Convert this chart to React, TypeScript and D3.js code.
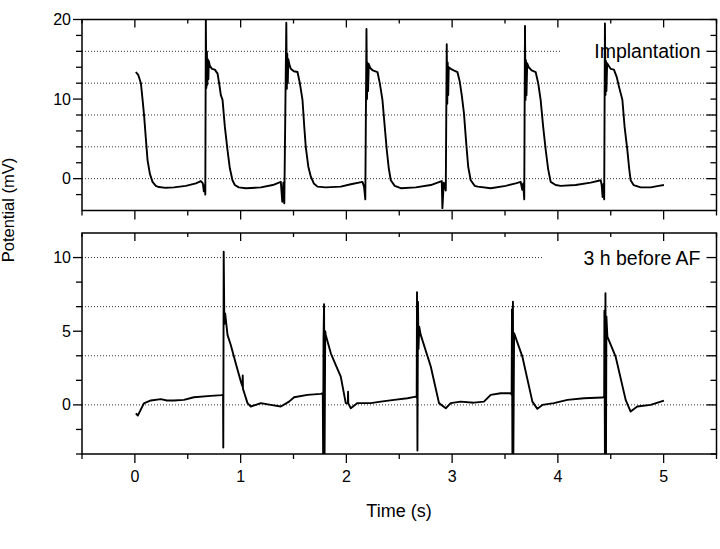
import React from "react";
import * as d3 from "d3";

// [time (s), potential (mV)]
const implantationTrace: [number, number][] = [
  [0.009, 13.4], [0.033, 13.0], [0.057, 12.0], [0.076, 9.5], [0.088, 7.8], [0.104, 5.0],
  [0.12, 2.3], [0.142, 0.6], [0.167, -0.4], [0.198, -0.9], [0.227, -1.05], [0.293, -1.15],
  [0.369, -1.1], [0.482, -0.9], [0.577, -0.6], [0.624, -0.3], [0.643, -0.6], [0.652, -1.6],
  [0.662, -0.8], [0.666, -2.0], [0.671, 20.0], [0.676, 11.4], [0.681, 16.0], [0.685, 11.8],
  [0.69, 15.0], [0.695, 12.5], [0.699, 14.8], [0.709, 14.2], [0.728, 13.8], [0.756, 13.7],
  [0.782, 13.2], [0.799, 11.8], [0.813, 10.5], [0.829, 9.9], [0.851, 6.5], [0.876, 3.6],
  [0.898, 1.3], [0.923, -0.2], [0.945, -0.8], [0.983, -1.1], [1.049, -1.2], [1.191, -1.1],
  [1.304, -0.8], [1.38, -0.4], [1.394, -2.9], [1.404, -0.5], [1.413, -3.1], [1.432, 19.6],
  [1.437, 11.3], [1.441, 15.7], [1.446, 12.0], [1.451, 15.0], [1.46, 14.4], [1.474, 13.8],
  [1.503, 13.5], [1.538, 13.4], [1.56, 12.0], [1.585, 9.9], [1.602, 6.5], [1.616, 4.0],
  [1.64, 1.5], [1.664, 0.25], [1.692, -0.6], [1.727, -1.0], [1.805, -1.1], [1.947, -1.0],
  [2.042, -0.7], [2.152, -0.4], [2.167, -1.0], [2.179, -2.6], [2.19, 18.8], [2.195, 10.0],
  [2.199, 14.6], [2.205, 11.0], [2.212, 14.4], [2.226, 13.9], [2.25, 13.6], [2.294, 13.4],
  [2.316, 12.0], [2.341, 9.9], [2.363, 6.5], [2.382, 3.6], [2.401, 1.3], [2.42, -0.2],
  [2.457, -0.9], [2.514, -1.2], [2.656, -1.1], [2.798, -0.8], [2.902, -0.3], [2.908, -3.7],
  [2.921, -0.5], [2.94, -1.5], [2.949, 16.9], [2.954, 9.4], [2.958, 14.6], [2.963, 10.5],
  [2.968, 14.0], [2.987, 13.8], [3.015, 13.6], [3.05, 13.4], [3.072, 12.2], [3.091, 10.5],
  [3.112, 8.2], [3.133, 4.5], [3.152, 1.5], [3.176, -0.2], [3.214, -0.9], [3.242, -1.0],
  [3.365, -1.2], [3.507, -0.9], [3.601, -0.6], [3.648, -0.4], [3.663, -1.4], [3.672, -0.6],
  [3.682, -2.6], [3.689, 19.2], [3.694, 9.9], [3.698, 14.9], [3.703, 10.5], [3.71, 14.5],
  [3.724, 14.0], [3.752, 13.6], [3.79, 13.4], [3.814, 12.0], [3.837, 9.9], [3.861, 6.5],
  [3.885, 3.6], [3.908, 1.2], [3.932, -0.4], [3.979, -0.8], [4.026, -0.9], [4.168, -0.8],
  [4.31, -0.5], [4.405, -0.2], [4.414, -0.8], [4.423, -2.3], [4.433, -0.6], [4.438, -2.6],
  [4.445, 19.5], [4.45, 10.5], [4.455, 14.8], [4.459, 11.0], [4.466, 14.5], [4.48, 14.2],
  [4.499, 13.8], [4.53, 13.7], [4.556, 12.8], [4.579, 11.5], [4.61, 9.9], [4.631, 6.5],
  [4.657, 3.6], [4.674, 1.3], [4.688, -0.2], [4.716, -0.8], [4.783, -1.1], [4.877, -1.1],
  [4.953, -0.9], [5.003, -0.8],
];

const beforeAFTrace: [number, number][] = [
  [0.009, -0.57], [0.028, -0.72], [0.057, -0.3], [0.085, 0.1], [0.151, 0.3], [0.246, 0.39],
  [0.302, 0.3], [0.369, 0.3], [0.463, 0.34], [0.558, 0.52], [0.718, 0.61], [0.822, 0.66],
  [0.834, 0.7], [0.836, -2.9], [0.84, 10.4], [0.846, 5.5], [0.854, 6.2], [0.876, 4.75],
  [0.907, 4.07], [0.955, 2.8], [1.002, 1.58], [1.018, 1.25], [1.02, 2.0], [1.022, 1.1],
  [1.065, 0.12], [1.096, -0.11], [1.191, 0.12], [1.285, 0.0], [1.38, -0.11], [1.458, 0.22],
  [1.506, 0.52], [1.632, 0.68], [1.758, 0.75], [1.777, 0.8], [1.78, -3.4], [1.784, 4.5],
  [1.789, 6.84], [1.794, -3.4], [1.8, 5.0], [1.805, 4.75], [1.853, 3.5], [1.9, 2.7],
  [1.947, 1.92], [1.994, 0.12], [2.014, 0.1], [2.016, 0.9], [2.018, 0.1], [2.042, -0.23],
  [2.105, 0.12], [2.231, 0.12], [2.325, 0.22], [2.451, 0.34], [2.578, 0.45], [2.656, 0.56],
  [2.665, 0.5], [2.668, 7.65], [2.672, -3.1], [2.677, 7.0], [2.682, 3.8], [2.689, 5.3],
  [2.703, 4.75], [2.798, 2.6], [2.876, 0.12], [2.94, -0.23], [2.987, 0.12], [3.081, 0.22],
  [3.207, 0.15], [3.301, 0.22], [3.365, 0.68], [3.459, 0.79], [3.554, 0.79], [3.563, 0.7],
  [3.566, 6.5], [3.57, -3.4], [3.575, 7.0], [3.579, -3.4], [3.586, 4.87], [3.664, 3.28],
  [3.759, 0.22], [3.806, -0.27], [3.853, 0.0], [3.963, 0.12], [4.09, 0.34], [4.247, 0.45],
  [4.42, 0.5], [4.438, 0.55], [4.44, 6.4], [4.445, -3.4], [4.45, 7.58], [4.455, -3.4],
  [4.459, 6.0], [4.468, 4.64], [4.546, 3.28], [4.641, 0.34], [4.688, -0.45], [4.751, -0.11],
  [4.877, 0.0], [5.003, 0.29],
];

const timeTicks = [0, 1, 2, 3, 4, 5];
const timeMinorTicks = [-0.5, 0.5, 1.5, 2.5, 3.5, 4.5, 5.5];

const topLabelTicks = [0, 10, 20];
const topMinorTicks = [-2, 2, 4, 6, 8, 12, 14, 16, 18];
const topGrid = [0, 4, 8, 12, 16];

const bottomLabelTicks = [0, 5, 10];
const bottomMinorTicks = [-10 / 3, -5 / 3, 5 / 3, 10 / 3, 20 / 3, 25 / 3];
const bottomGrid = [0, 10 / 3, 20 / 3, 10];

const panels = [
  {
    id: "top",
    label: "Implantation",
    trace: implantationTrace,
    domain: [-4, 20],
    range: [210.5, 19.5],
    labelTicks: topLabelTicks,
    minorTicks: topMinorTicks,
    grid: topGrid,
    shortGridAt: 16,
    shortGridEnd: 560,
    labelValue: 16,
    showTimeLabels: false,
  },
  {
    id: "bottom",
    label: "3 h before AF",
    trace: beforeAFTrace,
    domain: [-10 / 3, 35 / 3],
    range: [454, 233],
    labelTicks: bottomLabelTicks,
    minorTicks: bottomMinorTicks,
    grid: bottomGrid,
    shortGridAt: 10,
    shortGridEnd: 543,
    labelValue: 10,
    showTimeLabels: true,
  },
];

const FONT = "'Liberation Sans', Arial, Helvetica, sans-serif";
const W = 720;
const H = 549;

export default function App() {
  const x = d3.scaleLinear().domain([-0.5, 5.5]).range([82, 716.5]);
  const [x0, x1] = x.range();

  return (
    <svg
      width={W}
      height={H}
      style={{ position: "absolute", left: 0, top: 0, background: "#fff" }}
      fontFamily={FONT}
    >
      <defs>
        {panels.map((p) => (
          <clipPath id={`clip-${p.id}`} key={p.id}>
            <rect x={x0} y={p.range[1]} width={x1 - x0} height={p.range[0] - p.range[1]} />
          </clipPath>
        ))}
      </defs>

      {panels.map((p) => {
        const y = d3.scaleLinear().domain(p.domain).range(p.range);
        const [yb, yt] = p.range;
        const line = d3
          .line<[number, number]>()
          .x((d) => x(d[0]))
          .y((d) => y(d[1]));
        const allY = [...p.labelTicks, ...p.minorTicks];

        return (
          <g key={p.id}>
            {/* dotted grid */}
            {p.grid.map((v) => (
              <line
                key={v}
                x1={x0}
                x2={v === p.shortGridAt ? p.shortGridEnd : x1}
                y1={y(v)}
                y2={y(v)}
                stroke="#333"
                strokeWidth={1}
                strokeDasharray="1 2"
              />
            ))}

            {/* trace */}
            <path
              d={line(p.trace) ?? ""}
              fill="none"
              stroke="#000"
              strokeWidth={1.9}
              strokeLinejoin="round"
              clipPath={`url(#clip-${p.id})`}
            />

            {/* frame */}
            <rect
              x={x0}
              y={yt}
              width={x1 - x0}
              height={yb - yt}
              fill="none"
              stroke="#000"
              strokeWidth={1.5}
            />

            {/* left ticks (outward) */}
            {allY.map((v) => {
              const major = p.labelTicks.includes(v);
              return (
                <line key={`l${v}`} x1={x0} x2={x0 - (major ? 9 : 6)} y1={y(v)} y2={y(v)} stroke="#000" strokeWidth={1.3} />
              );
            })}
            {p.labelTicks.map((v) => (
              <text key={`lt${v}`} x={x0 - 11} y={y(v)} dy="0.35em" textAnchor="end" fontSize={16}>
                {v}
              </text>
            ))}

            {/* right ticks (inward) */}
            {allY.map((v) => {
              const long = p.grid.some((g) => Math.abs(g - v) < 1e-6);
              return (
                <line key={`r${v}`} x1={x1} x2={x1 - (long ? 10 : 6)} y1={y(v)} y2={y(v)} stroke="#000" strokeWidth={1.3} />
              );
            })}

            {/* top edge ticks (inward) */}
            {timeTicks.map((t) => (
              <line key={`t${t}`} x1={x(t)} x2={x(t)} y1={yt} y2={yt + 8} stroke="#000" strokeWidth={1.3} />
            ))}
            {timeMinorTicks.map((t) => (
              <line key={`tm${t}`} x1={x(t)} x2={x(t)} y1={yt} y2={yt + 4} stroke="#000" strokeWidth={1.3} />
            ))}

            {/* bottom edge ticks (outward) */}
            {timeTicks.map((t) => (
              <line key={`b${t}`} x1={x(t)} x2={x(t)} y1={yb} y2={yb + 9} stroke="#000" strokeWidth={1.3} />
            ))}
            {timeMinorTicks.map((t) => (
              <line key={`bm${t}`} x1={x(t)} x2={x(t)} y1={yb} y2={yb + 5} stroke="#000" strokeWidth={1.3} />
            ))}
            {p.showTimeLabels &&
              timeTicks.map((t) => (
                <text key={`bt${t}`} x={x(t)} y={yb + 28} textAnchor="middle" fontSize={16}>
                  {t}
                </text>
              ))}

            {/* panel label */}
            <text
              x={x1 - 16}
              y={y(p.labelValue)}
              dy="0.36em"
              textAnchor="end"
              fontSize={19.5}
            >
              {p.label}
            </text>
          </g>
        );
      })}

      <text x={399} y={517} textAnchor="middle" fontSize={18}>
        Time (s)
      </text>
      <text
        transform="translate(13.5,210) rotate(-90)"
        textAnchor="middle"
        fontSize={16.5}
      >
        Potential (mV)
      </text>
    </svg>
  );
}
